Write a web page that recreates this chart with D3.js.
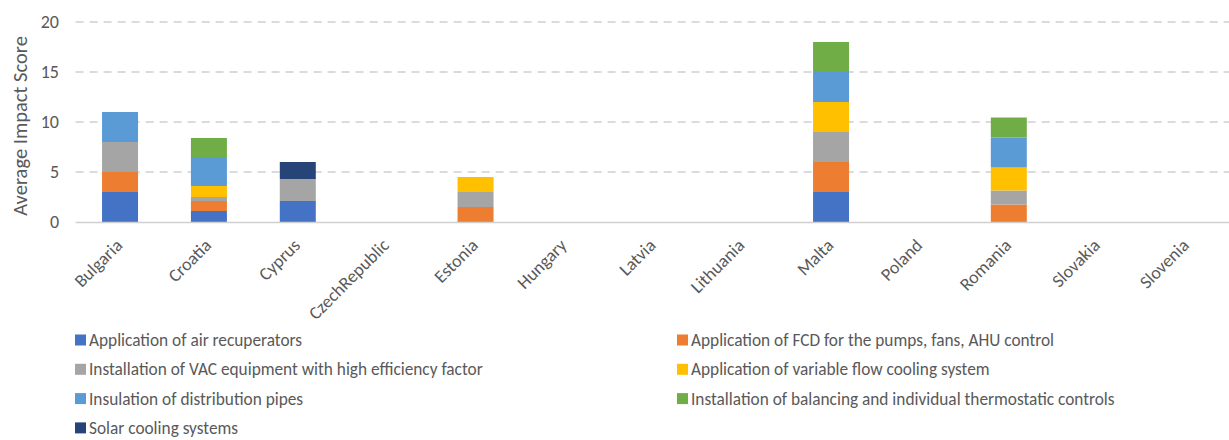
<!DOCTYPE html>
<html>
<head>
<meta charset="utf-8">
<script src="https://cdn.jsdelivr.net/npm/d3@7"></script>
<style>
  body { margin: 0; background: #fff; }
  svg { display: block; font-family: Carlito, Calibri, Roboto, sans-serif; }
</style>
</head>
<body>
<div id="chart"></div>
<script>
var countries = ["Bulgaria","Croatia","Cyprus","CzechRepublic","Estonia","Hungary","Latvia","Lithuania","Malta","Poland","Romania","Slovakia","Slovenia"]
var seriesNames = [
    "Application of air recuperators",
    "Application of FCD for the pumps, fans, AHU control",
    "Installation of VAC equipment with high efficiency factor",
    "Application of variable flow cooling system",
    "Insulation of distribution pipes",
    "Installation of balancing and individual thermostatic controls",
    "Solar cooling systems"]
var seriesColors = ["#4472C4","#ED7D31","#A5A5A5","#FFC000","#5B9BD5","#70AD47","#264478"]

// one array per series, in country order
var airRecuperators   = [3, 1.1, 2.1, 0, 0,   0, 0, 0, 3, 0, 0,    0, 0]
var fcdControl        = [2, 1.0, 0,   0, 1.5, 0, 0, 0, 3, 0, 1.75, 0, 0]
var vacEquipment      = [3, 0.4, 2.2, 0, 1.5, 0, 0, 0, 3, 0, 1.4,  0, 0]
var variableFlow      = [0, 1.1, 0,   0, 1.5, 0, 0, 0, 3, 0, 2.3,  0, 0]
var pipeInsulation    = [3, 2.9, 0,   0, 0,   0, 0, 0, 3, 0, 3.0,  0, 0]
var balancingControls = [0, 1.9, 0,   0, 0,   0, 0, 0, 3, 0, 2.0,  0, 0]
var solarCooling      = [0, 0,   1.7, 0, 0,   0, 0, 0, 0, 0, 0,    0, 0]
var yTicks = [0, 5, 10, 15, 20]

var allSeries = [airRecuperators, fcdControl, vacEquipment, variableFlow, pipeInsulation, balancingControls, solarCooling]

var W = 1229, H = 440
var plotLeft = 75.6, plotRight = 1231, plotTop = 22, plotBottom = 222

var svg = d3.select("#chart").append("svg")
    .attr("width", W)
    .attr("height", H)

var table = countries.map(function(c, i) {
    var row = {country: c}
    seriesNames.forEach(function(s, j) { row[s] = allSeries[j][i] })
    return row
})
var stacked = d3.stack().keys(seriesNames)(table)

var x = d3.scaleBand()
    .domain(countries)
    .range([plotLeft, plotRight])
    .paddingInner(0.595)
    .paddingOuter(0.2975)

var y = d3.scaleLinear()
    .domain([0, 20])
    .range([plotBottom, plotTop])

// gridlines
svg.append("g")
    .selectAll("line")
    .data(yTicks.filter(function(d) { return d > 0 }))
    .enter()
    .append("line")
    .attr("x1", plotLeft)
    .attr("x2", W)
    .attr("y1", function(d) { return y(d) })
    .attr("y2", function(d) { return y(d) })
    .attr("stroke", "#cfcfcf")
    .attr("stroke-width", 1.3)
    .attr("stroke-dasharray", "8,6")

// y tick labels
svg.append("g")
    .selectAll("text")
    .data(yTicks)
    .enter()
    .append("text")
    .attr("x", 59)
    .attr("y", function(d) { return y(d) })
    .attr("dy", "0.35em")
    .attr("text-anchor", "end")
    .attr("fill", "#595959")
    .style("font-size", "18px")
    .text(function(d) { return d })

// y title
svg.append("text")
    .attr("transform", "translate(27," + ((plotTop + plotBottom) / 2 + 4) + ") rotate(-90)")
    .attr("text-anchor", "middle")
    .attr("fill", "#595959")
    .style("font-size", "20.5px")
    .text("Average Impact Score")

// bars
svg.append("g")
    .selectAll("g")
    .data(stacked)
    .enter()
    .append("g")
    .attr("fill", function(d, i) { return seriesColors[i] })
    .selectAll("rect")
    .data(function(d) { return d })
    .enter()
    .append("rect")
    .attr("x", function(d) { return x(d.data.country) })
    .attr("width", x.bandwidth())
    .attr("y", function(d) { return y(d[1]) })
    .attr("height", function(d) { return y(d[0]) - y(d[1]) })

// baseline
svg.append("line")
    .attr("x1", plotLeft)
    .attr("x2", W)
    .attr("y1", y(0) + 0.5)
    .attr("y2", y(0) + 0.5)
    .attr("stroke", "#d0d0d0")
    .attr("stroke-width", 1.5)

// x labels
svg.append("g")
    .selectAll("text")
    .data(countries)
    .enter()
    .append("text")
    .attr("transform", function(d) {
        return "translate(" + (x(d) + x.bandwidth() / 2 - 1) + "," + (plotBottom + 20) + ") rotate(-45)"
    })
    .attr("text-anchor", "end")
    .attr("dy", "0.35em")
    .attr("fill", "#595959")
    .style("font-size", "18px")
    .text(function(d) { return d })

// legend, two columns
var legend = svg.append("g")
    .selectAll("g")
    .data(seriesNames)
    .enter()
    .append("g")
    .attr("transform", function(d, i) {
        var col = i % 2, row = Math.floor(i / 2)
        return "translate(" + (col == 0 ? 75 : 677) + "," + (340 + row * 29.3) + ")"
    })
legend.append("rect")
    .attr("x", 0)
    .attr("y", -5.5)
    .attr("width", 11)
    .attr("height", 11)
    .attr("fill", function(d, i) { return seriesColors[i] })
legend.append("text")
    .attr("x", 14)
    .attr("dy", "0.35em")
    .attr("fill", "#595959")
    .style("font-size", "17.3px")
    .text(function(d) { return d })
</script>
</body>
</html>
